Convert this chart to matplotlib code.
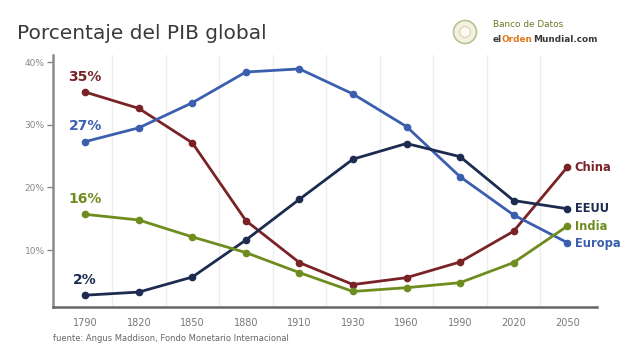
import matplotlib
matplotlib.use("Agg")
import matplotlib.pyplot as plt
from matplotlib.patches import Circle

# Porcentaje del PIB global
years = ["1790", "1820", "1850", "1880", "1910", "1930", "1960", "1990", "2020", "2050"]
china = [35.2, 32.6, 27.1, 14.7, 8.0, 4.5, 5.6, 8.1, 13.0, 23.2]
europa = [27.3, 29.5, 33.5, 38.4, 38.9, 34.9, 29.7, 21.7, 15.6, 11.2]
eeuu = [2.8, 3.3, 5.7, 11.6, 18.1, 24.5, 27.0, 24.9, 17.9, 16.6]
india = [15.7, 14.8, 12.1, 9.6, 6.4, 3.4, 4.0, 4.8, 8.0, 13.8]

start_labels = ["35%", "27%", "2%", "16%"]
names = ["China", "Europa", "EEUU", "India"]
colors = ["#7a2327", "#3b5fae", "#1c2b4f", "#6f8d1f"]
series = [china, europa, eeuu, india]

fig = plt.figure(figsize=(6.4, 3.51), dpi=100)
ax = fig.add_axes([0.083, 0.125, 0.85, 0.718])

x = list(range(len(years)))
for vals, col in zip(series, colors):
    ax.plot(x, vals, color=col, lw=2.0, marker="o", ms=4.5, zorder=3,
            solid_capstyle="round")

# start labels above first point
for vals, lab, col in zip(series, start_labels, colors):
    ax.text(0, vals[0] + 1.3, lab, color=col, fontsize=10, fontweight="bold",
            ha="center", va="bottom")

# end labels
end_y = {"China": china[-1], "EEUU": eeuu[-1], "India": india[-1], "Europa": europa[-1] - 0.2}
for name, col in zip(names, colors):
    ax.text(9.14, end_y[name], name, color=col, fontsize=8.3, fontweight="bold",
            ha="left", va="center")

# vertical grid between categories
for g in [i + 0.5 for i in range(9)]:
    ax.axvline(g, color="#ededed", lw=1.0, zorder=0)

ax.set_xlim(-0.6, 9.56)
ax.set_ylim(0.9, 41.1)
ax.set_xticks(x)
ax.set_xticklabels(years)
ax.set_yticks([10, 20, 30, 40])
ax.set_yticklabels(["10%", "20%", "30%", "40%"])
ax.tick_params(axis="x", length=0, pad=8, labelsize=7, labelcolor="#777777")
ax.tick_params(axis="y", length=4, width=1, color="#888888", pad=2,
               labelsize=6.5, labelcolor="#888888")

for s in ["top", "right"]:
    ax.spines[s].set_visible(False)
ax.spines["left"].set_color("#8a8a8a")
ax.spines["left"].set_linewidth(1.8)
ax.spines["bottom"].set_color("#666666")
ax.spines["bottom"].set_linewidth(1.8)

fig.text(0.027, 0.905, "Porcentaje del PIB global", fontsize=14.5,
         color="#3a3a3a", ha="left", va="center")
fig.text(0.083, 0.037, "fuente: Angus Maddison, Fondo Monetario Internacional",
         fontsize=6, color="#666666", ha="left", va="center")

# logo
fig.patches.append(Circle((4.65, 3.19), 0.115, transform=fig.dpi_scale_trans,
                          facecolor="#f3f1e2", edgecolor="#b9c48f", lw=1.2))
fig.patches.append(Circle((4.65, 3.19), 0.055, transform=fig.dpi_scale_trans,
                          facecolor="#fbfaf2", edgecolor="#d8d2b0", lw=0.8))
fig.text(0.77, 0.93, "Banco de Datos", fontsize=6.4, color="#6a7a25",
         ha="left", va="center")
t1 = fig.text(0.77, 0.888, "el", fontsize=6.4, color="#3a3a3a",
              fontweight="bold", ha="left", va="center")
fig.canvas.draw()
r = fig.canvas.get_renderer()
bb = t1.get_window_extent(r)
t2 = fig.text(bb.x1 / 640, 0.888, "Orden", fontsize=6.4, color="#e07a1a",
              fontweight="bold", ha="left", va="center")
bb2 = t2.get_window_extent(r)
fig.text(bb2.x1 / 640, 0.888, "Mundial.com", fontsize=6.4, color="#3a3a3a",
         fontweight="bold", ha="left", va="center")

fig.savefig("out.png", dpi=100)
